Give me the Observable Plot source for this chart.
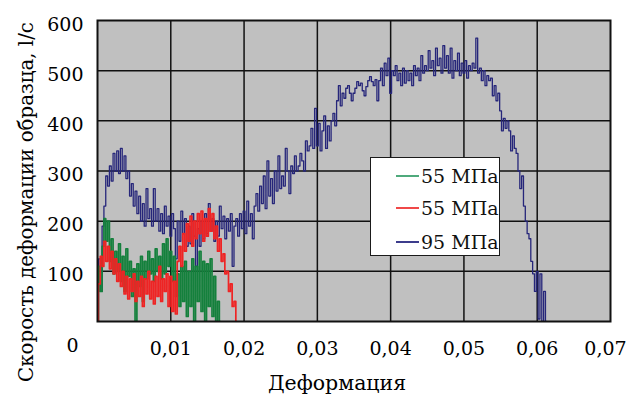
<!DOCTYPE html>
<html>
<head>
<meta charset="utf-8">
<script src="https://cdn.jsdelivr.net/npm/d3@7"></script>
<script src="https://cdn.jsdelivr.net/npm/@observablehq/plot@0.6"></script>
<style>
  html, body { margin: 0; padding: 0; background: #fff; }
  #wrap { position: relative; width: 628px; height: 397px; font-family: "DejaVu Serif", serif; }
  #legend { position: absolute; left: 370px; top: 157px; width: 128px; height: 97px; background: #fff; border: 1.5px solid #1a1a1a; }
  .row { position: absolute; left: 0; height: 24px; font-size: 19px; color: #111; }
  .sw { position: absolute; left: 25px; width: 23px; height: 2px; }
  .lab { position: absolute; left: 50px; white-space: nowrap; line-height: 24px; top: 0; }
</style>
</head>
<body>
<div id="wrap"></div>
<script>
// Strain sampling (uniform) and strain-rate series
const strainStart = 0;
const strainStep = 0.00025;

// 95 MPa (blue)
const rate95 = [
  0, 125, 60, 190, 230, 290, 270, 310, 280, 335,
  300, 340, 295, 345, 300, 330, 285, 300, 250, 275,
  230, 260, 215, 250, 200, 235, 190, 265, 205, 225,
  190, 265, 200, 225, 180, 215, 175, 230, 190, 210,
  170, 215, 185, 125, 200, 160, 220, 175, 205, 150,
  190, 155, 215, 170, 110, 185, 150, 200, 165, 215,
  175, 235, 180, 205, 160, 200, 170, 230, 185, 210,
  165, 205, 180, 215, 110, 190, 205, 170, 215, 185,
  220, 175, 240, 190, 215, 165, 230, 255, 220, 270,
  235, 290, 225, 320, 250, 285, 235, 300, 260, 330,
  265, 290, 270, 345, 300, 255, 310, 295, 330, 300,
  310, 335, 320, 300, 360, 340, 350, 385, 345, 425,
  350, 395, 340, 380, 410, 345, 390, 360, 400, 415,
  390, 440, 470, 430, 455, 445, 465, 470, 455, 440,
  455, 465, 478, 470, 475, 460, 450, 468, 480, 488,
  478, 470, 482, 440, 480, 505, 470, 515, 490, 525,
  455, 500, 490, 510, 480, 495, 470, 505, 475, 500,
  480, 495, 470, 510, 490, 505, 480, 530, 495, 510,
  500, 540, 505, 520, 490, 545, 510, 525, 495, 550,
  505, 530, 495, 545, 485, 520, 500, 535, 490, 515,
  495, 520, 485, 510, 500, 515, 505, 565, 495, 505,
  480, 500, 470, 490, 480, 485, 450, 470, 440, 455,
  420, 380, 405, 385, 400, 380, 340, 370, 345, 335,
  300, 265, 290, 230, 200, 175, 165, 120, 95, 60,
  100, 5, 95, 0, 60, 0
];

// 55 MPa (green)
const rate55a = [
  0, 110, 60, 150, 205, 160, 200, 120, 165, 95,
  140, 100, 155, 80, 130, 60, 145, 90, 120, 50,
  105, 0, 115, 70, 130, 40, 120, 85, 140, 95,
  125, 80, 145, 100, 130, 85, 155, 95, 165, 110,
  140, 80, 130, 50, 95, 30, 110, 40, 120, 10,
  100, 30, 125, 0, 110, 40, 140, 20, 120, 0,
  115, 30, 125, 10, 90, 0, 40, 0
];

// 55 MPa (red)
const rate55b = [
  0, 75, 130, 110, 160, 120, 150, 105, 140, 95,
  125, 80, 115, 70, 100, 55, 90, 45, 85, 60,
  95, 40, 80, 50, 90, 30, 85, 55, 100, 45,
  80, 35, 90, 50, 110, 40, 85, 60, 95, 30,
  90, 20, 80, 15, 120, 150, 110, 175, 140, 195,
  160, 210, 150, 200, 165, 215, 175, 220, 160, 205,
  170, 225, 180, 215, 165, 190, 140, 165, 120, 135,
  95, 100, 60, 75, 30, 40, 0
];

const seriesLabels = ["55 МПа", "55 МПа", "95 МПа"];
const seriesColors = ["#14803c", "#ee2424", "#26267a"];
const legendColors = ["#4faa7c", "#f04848", "#3c3c8c"];

const xTicks = [0.01, 0.02, 0.03, 0.04, 0.05, 0.06];
const xLastTick = [0.07];
const yTicks = [100, 200, 300, 400, 500, 600];
const yZeroTick = [0];
const xTitle = "Деформация";
const yTitle = "Скорость деформации образца, l/c";

const toRows = (arr) => arr.map((v, i) => ({x: strainStart + i * strainStep, y: v}));
const fmt = (d) => d.toFixed(2).replace(".", ",");

const chart = Plot.plot({
  width: 628,
  height: 397,
  marginLeft: 97,
  marginRight: 18,
  marginTop: 20,
  marginBottom: 76,
  style: {fontFamily: "DejaVu Serif", fontSize: "19px", color: "#000", background: "transparent"},
  x: {domain: [0, 0.07]},
  y: {domain: [0, 600]},
  marks: [
    Plot.frame({fill: "#c0c0c0"}),
    Plot.gridX(xTicks, {stroke: "#111", strokeOpacity: 1, strokeWidth: 1.5}),
    Plot.gridY([100, 200, 300, 400, 500], {stroke: "#111", strokeOpacity: 1, strokeWidth: 1.5}),
    Plot.line(toRows(rate95), {x: "x", y: "y", stroke: seriesColors[2], strokeWidth: 1.3, curve: "step", clip: true}),
    Plot.line(toRows(rate55a), {x: "x", y: "y", stroke: seriesColors[0], strokeWidth: 1.7, curve: "step", clip: true}),
    Plot.line(toRows(rate55b), {x: "x", y: "y", stroke: seriesColors[1], strokeWidth: 1.7, curve: "step", clip: true}),
    Plot.frame({stroke: "#111", strokeWidth: 2}),
    Plot.axisX(xTicks, {tickSize: 0, tickPadding: 20, tickFormat: fmt, fontSize: 19, label: null}),
    Plot.axisX(xLastTick, {tickSize: 0, tickPadding: 20, tickFormat: fmt, fontSize: 19, label: null, dx: -5}),
    Plot.axisY(yTicks, {tickSize: 0, tickPadding: 14, fontSize: 19, label: null, dy: 4}),
    Plot.axisY(yZeroTick, {tickSize: 0, tickPadding: 19, fontSize: 19, label: null, dy: 24}),
    Plot.text([xTitle], {frameAnchor: "bottom", text: d => d, dx: -17, dy: 62, lineAnchor: "middle", fontSize: 20.5}),
    Plot.text([yTitle], {frameAnchor: "left", text: d => d, rotate: -90, dx: -71, dy: 31, lineAnchor: "middle", textAnchor: "middle", fontSize: 19.8})
  ]
});

const wrap = document.getElementById("wrap");
wrap.appendChild(chart);

const legend = document.createElement("div");
legend.id = "legend";
const rowTops = [6, 38, 72];
seriesLabels.forEach((lab, i) => {
  const row = document.createElement("div");
  row.className = "row";
  row.style.top = rowTops[i] + "px";
  row.style.width = "128px";
  const sw = document.createElement("div");
  sw.className = "sw";
  sw.style.background = legendColors[i];
  sw.style.top = "11px";
  const t = document.createElement("div");
  t.className = "lab";
  t.textContent = lab;
  row.appendChild(sw);
  row.appendChild(t);
  legend.appendChild(row);
});
wrap.appendChild(legend);
</script>
</body>
</html>
